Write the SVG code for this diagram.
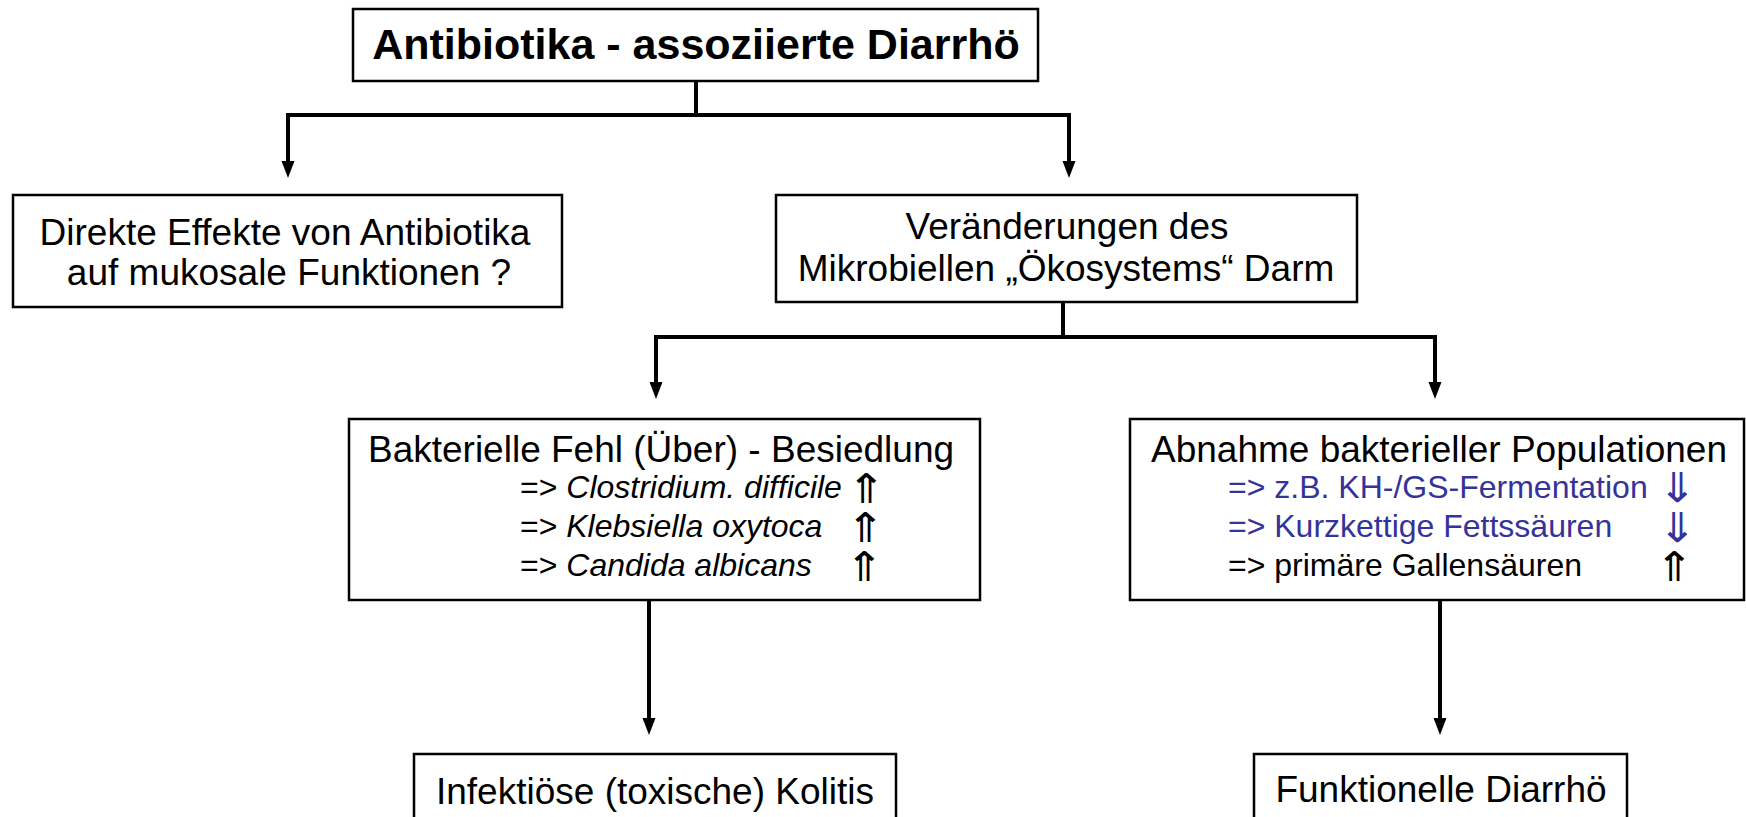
<svg xmlns="http://www.w3.org/2000/svg" width="1746" height="817" viewBox="0 0 1746 817">
<style>
.box{fill:#fff;stroke:#000;stroke-width:2.5}
.t{font-family:"Liberation Sans","DejaVu Sans",sans-serif;font-size:37px;fill:#000}
.c{text-anchor:middle}
.s{font-family:"Liberation Sans","DejaVu Sans",sans-serif;font-size:32px;fill:#000}
.ar{font-family:"DejaVu Sans",sans-serif;font-weight:200;font-size:34px;text-anchor:middle}
.blue{fill:#33339a}
.con{fill:none;stroke:#000;stroke-width:4}
</style>
<defs>
<marker id="ah" markerUnits="userSpaceOnUse" markerWidth="18" markerHeight="14" viewBox="0 -7 18 14" refX="2" refY="0" orient="auto">
<path d="M0,-6.5 L17,0 L0,6.5 z" fill="#000"/>
</marker>
</defs>
<rect width="1746" height="817" fill="#fff"/>
<g id="connectors">
<path class="con" d="M696,81 V115"/>
<path class="con" d="M288,115 H1069"/>
<path class="con" d="M288,113 V163" marker-end="url(#ah)"/>
<path class="con" d="M1069,113 V163" marker-end="url(#ah)"/>
<path class="con" d="M1063,302 V337"/>
<path class="con" d="M656,337 H1435"/>
<path class="con" d="M656,335 V384" marker-end="url(#ah)"/>
<path class="con" d="M1435,335 V384" marker-end="url(#ah)"/>
<path class="con" d="M649,600 V720" marker-end="url(#ah)"/>
<path class="con" d="M1440,600 V720" marker-end="url(#ah)"/>
</g>
<g id="n-top">
<rect class="box" x="353" y="9" width="685" height="72"/>
<text class="t c" x="696" y="59" style="font-weight:bold;font-size:43px">Antibiotika - assoziierte Diarrhö</text>
</g>
<g id="n-direkt">
<rect class="box" x="13" y="195" width="549" height="112"/>
<text class="t c" x="285" y="245">Direkte Effekte von Antibiotika</text>
<text class="t c" x="289" y="285">auf mukosale Funktionen ?</text>
</g>
<g id="n-veraend">
<rect class="box" x="776" y="195" width="581" height="107"/>
<text class="t c" x="1067" y="239">Veränderungen des</text>
<text class="t c" x="1066" y="281">Mikrobiellen „Ökosystems“ Darm</text>
</g>
<g id="n-fehl">
<rect class="box" x="349" y="419" width="631" height="181"/>
<text class="t c" x="661" y="462">Bakterielle Fehl (Über) - Besiedlung</text>
<text class="s" x="520" y="498">=&gt; <tspan font-style="italic">Clostridium. difficile</tspan></text>
<text class="ar" transform="translate(866,503) scale(1.35,1.2)">⇑</text>
<text class="s" x="520" y="537">=&gt; <tspan font-style="italic">Klebsiella oxytoca</tspan></text>
<text class="ar" transform="translate(865,542) scale(1.35,1.2)">⇑</text>
<text class="s" x="520" y="576">=&gt; <tspan font-style="italic">Candida albicans</tspan></text>
<text class="ar" transform="translate(864,581) scale(1.35,1.2)">⇑</text>
</g>
<g id="n-abnahme">
<rect class="box" x="1130" y="419" width="614" height="181"/>
<text class="t c" x="1439" y="462">Abnahme bakterieller Populationen</text>
<text class="s blue" x="1228" y="498">=&gt; z.B. KH-/GS-Fermentation</text>
<text class="ar blue" transform="translate(1677,502) scale(1.35,1.2)">⇓</text>
<text class="s blue" x="1228" y="537">=&gt; Kurzkettige Fettssäuren</text>
<text class="ar blue" transform="translate(1677,542) scale(1.35,1.2)">⇓</text>
<text class="s" x="1228" y="576">=&gt; primäre Gallensäuren</text>
<text class="ar" transform="translate(1674,581) scale(1.35,1.2)">⇑</text>
</g>
<g id="n-kolitis">
<rect class="box" x="414" y="754" width="482" height="80"/>
<text class="t c" x="655" y="804">Infektiöse (toxische) Kolitis</text>
</g>
<g id="n-funkt">
<rect class="box" x="1254" y="754" width="373" height="80"/>
<text class="t c" x="1441" y="802">Funktionelle Diarrhö</text>
</g>
</svg>
